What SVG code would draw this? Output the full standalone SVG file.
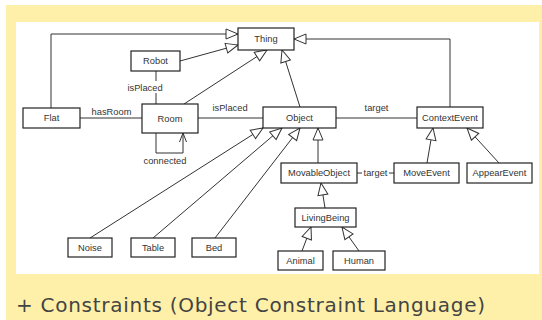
<svg xmlns="http://www.w3.org/2000/svg" width="542" height="320" viewBox="0 0 542 320">
<defs>
<marker id="tri" markerUnits="userSpaceOnUse" viewBox="-1 -1 14 12" markerWidth="14" markerHeight="12" refX="12" refY="5" orient="auto">
<path d="M0,0 L12,5 L0,10 Z" fill="#fff" stroke="#333" stroke-width="1"/>
</marker>
<marker id="open" markerUnits="userSpaceOnUse" viewBox="-1 -1 11 9" markerWidth="11" markerHeight="9" refX="9" refY="3.5" orient="auto">
<path d="M0,0 L9,3.5 L0,7" fill="none" stroke="#333" stroke-width="1"/>
</marker>
<style>
.n rect{fill:#fff;stroke:#222;stroke-width:1.2}
.n text,.lbl{font-family:"Liberation Sans",Arial,sans-serif;font-size:9.3px;fill:#333;text-anchor:middle}
.c path{fill:none;stroke:#333;stroke-width:1}
.g{marker-end:url(#tri)}
</style>
</defs>
<rect x="6" y="5" width="536" height="315" fill="#FEF0A8"/>
<rect x="16" y="22" width="523" height="252" fill="#fff"/>
<text x="16" y="312" font-family="'DejaVu Sans',Verdana,sans-serif" font-size="20" fill="#444" textLength="469" lengthAdjust="spacing">+ Constraints (Object Constraint Language)</text>

<g class="c" id="connectors">
<path class="g" d="M51,108 V34 H238"/>
<path class="g" d="M450,107 V39 H294"/>
<path class="g" d="M180,61 L238,45"/>
<path class="g" d="M184,104 L267,50"/>
<path class="g" d="M300,107 L282,50"/>
<path d="M156,71 V81 M156,93 V104"/>
<path d="M80,118 H142"/>
<path d="M198,118 H263"/>
<path d="M336,118 H417"/>
<path d="M156,133 V153 H183 V133" marker-end="url(#open)"/>
<path class="g" d="M90,238 L263,128"/>
<path class="g" d="M153,238 L282,128"/>
<path class="g" d="M215,238 L300,128"/>
<path class="g" d="M318,163 V128"/>
<path d="M357,173 H362 M389,173 H394"/>
<path class="g" d="M427,163 L433,128"/>
<path class="g" d="M499,163 L467,128"/>
<path class="g" d="M325,208 L321,183"/>
<path class="g" d="M302,251 L311,227"/>
<path class="g" d="M359,251 L342,227"/>
<text class="lbl" x="145" y="90.5">isPlaced</text>
<text class="lbl" x="111.5" y="115">hasRoom</text>
<text class="lbl" x="230" y="111">isPlaced</text>
<text class="lbl" x="376.5" y="111">target</text>
<text class="lbl" x="165" y="164">connected</text>
<text class="lbl" x="375.5" y="176.3">target</text>
</g>

<g class="n" id="Thing"><rect x="238" y="28" width="56" height="22"/><text x="266" y="42.3">Thing</text></g>
<g class="n" id="Robot"><rect x="131" y="51" width="49" height="20"/><text x="155.5" y="64.3">Robot</text></g>
<g class="n" id="Flat"><rect x="23" y="108" width="57" height="20"/><text x="51.5" y="121.3">Flat</text></g>
<g class="n" id="Room"><rect x="142" y="104" width="56" height="29"/><text x="170" y="121.8">Room</text></g>
<g class="n" id="Object"><rect x="263" y="107" width="73" height="21"/><text x="299.5" y="120.8">Object</text></g>
<g class="n" id="ContextEvent"><rect x="417" y="107" width="66" height="21"/><text x="450" y="120.8">ContextEvent</text></g>
<g class="n" id="MovableObject"><rect x="281" y="163" width="76" height="20"/><text x="319" y="176.3">MovableObject</text></g>
<g class="n" id="MoveEvent"><rect x="394" y="163" width="65" height="20"/><text x="426.5" y="176.3">MoveEvent</text></g>
<g class="n" id="AppearEvent"><rect x="467" y="163" width="65" height="20"/><text x="499.5" y="176.3">AppearEvent</text></g>
<g class="n" id="LivingBeing"><rect x="295" y="208" width="61" height="19"/><text x="325.5" y="220.8">LivingBeing</text></g>
<g class="n" id="Animal"><rect x="278" y="251" width="45" height="19"/><text x="300.5" y="263.8">Animal</text></g>
<g class="n" id="Human"><rect x="333" y="251" width="52" height="19"/><text x="359" y="263.8">Human</text></g>
<g class="n" id="Noise"><rect x="68" y="238" width="44" height="19"/><text x="90" y="250.8">Noise</text></g>
<g class="n" id="Table"><rect x="131" y="238" width="44" height="19"/><text x="153" y="250.8">Table</text></g>
<g class="n" id="Bed"><rect x="192" y="238" width="44" height="19"/><text x="214" y="250.8">Bed</text></g>
</svg>
